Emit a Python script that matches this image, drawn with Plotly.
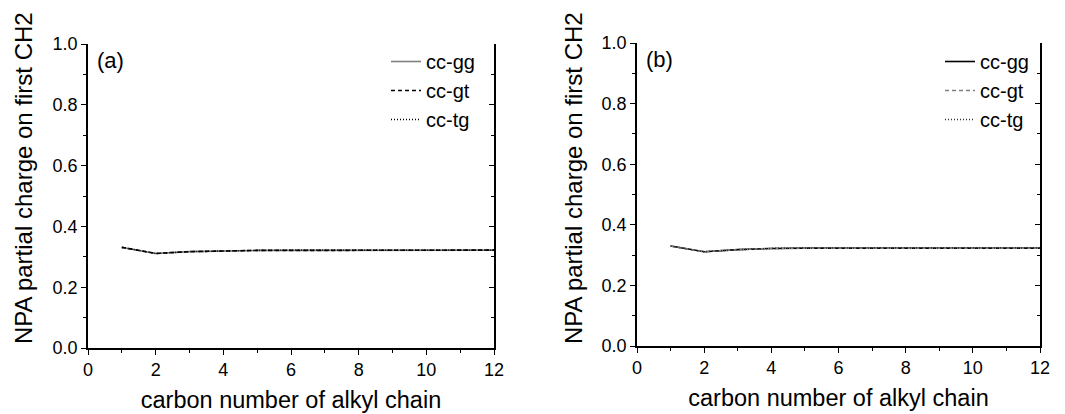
import plotly.graph_objects as go

carbon = [1, 2, 3, 4, 5, 6, 7, 8, 9, 10, 11, 12]

a_gg = [0.331, 0.311, 0.317, 0.320, 0.321, 0.321, 0.321, 0.321, 0.322, 0.322, 0.322, 0.322]
a_gt = [0.331, 0.311, 0.317, 0.320, 0.321, 0.321, 0.321, 0.321, 0.322, 0.322, 0.322, 0.322]
a_tg = [0.331, 0.311, 0.317, 0.320, 0.321, 0.322, 0.322, 0.322, 0.322, 0.322, 0.322, 0.322]

b_gg = [0.330, 0.311, 0.318, 0.322, 0.323, 0.323, 0.323, 0.323, 0.323, 0.323, 0.323, 0.323]
b_gt = [0.330, 0.311, 0.318, 0.322, 0.323, 0.323, 0.323, 0.323, 0.323, 0.323, 0.323, 0.323]
b_tg = [0.330, 0.311, 0.318, 0.322, 0.323, 0.324, 0.324, 0.324, 0.324, 0.324, 0.324, 0.324]

series_names = ["cc-gg", "cc-gt", "cc-tg"]
panel_labels = ["(a)", "(b)"]
x_title = "carbon number of alkyl chain"
y_title = "NPA partial charge on first CH2"

FONT = "Arial, Liberation Sans, sans-serif"
W, H = 1065, 414

fig = go.Figure()

styles_a = [("#808080", "solid"), ("#000000", "4px,3px"), ("#000000", "1px,2px")]
styles_b = [("#000000", "solid"), ("#808080", "4px,3px"), ("#333333", "1px,2px")]

for name, ys, (col, dash) in zip(series_names, [a_gg, a_gt, a_tg], styles_a):
    fig.add_trace(go.Scatter(x=carbon, y=ys, mode="lines", name=name,
                             line=dict(color=col, width=1.6, dash=dash),
                             xaxis="x", yaxis="y", legend="legend"))
for name, ys, (col, dash) in zip(series_names, [b_gg, b_gt, b_tg], styles_b):
    fig.add_trace(go.Scatter(x=carbon, y=ys, mode="lines", name=name,
                             line=dict(color=col, width=1.6, dash=dash),
                             xaxis="x2", yaxis="y2", legend="legend2"))

# invisible companions so the right-hand frame axes get drawn
fig.add_trace(go.Scatter(x=carbon, y=a_gg, mode="lines", line=dict(width=0, color="rgba(0,0,0,0)"),
                         showlegend=False, hoverinfo="skip", xaxis="x", yaxis="y3"))
fig.add_trace(go.Scatter(x=carbon, y=b_gg, mode="lines", line=dict(width=0, color="rgba(0,0,0,0)"),
                         showlegend=False, hoverinfo="skip", xaxis="x2", yaxis="y4"))

def xax(domain, anchor):
    return dict(domain=domain, anchor=anchor, range=[0, 12], dtick=2, tick0=0,
                showline=True, linecolor="black", linewidth=1.5,
                ticks="outside", ticklen=5, tickwidth=1.2, tickcolor="black",
                minor=dict(dtick=1, ticks="outside", ticklen=3, tickwidth=1.2, tickcolor="black"),
                showgrid=False, zeroline=False, automargin=False,
                tickfont=dict(family=FONT, size=18, color="black"),
                title=dict(text=x_title, font=dict(family=FONT, size=23.5, color="black"), standoff=12))

def yax(domain, anchor):
    return dict(domain=domain, anchor=anchor, range=[0, 1], dtick=0.2, tick0=0,
                tickformat=".1f",
                showline=True, linecolor="black", linewidth=1.5,
                ticks="outside", ticklen=5, tickwidth=1.2, tickcolor="black",
                minor=dict(dtick=0.1, ticks="outside", ticklen=3, tickwidth=1.2, tickcolor="black"),
                showgrid=False, zeroline=False, automargin=False,
                tickfont=dict(family=FONT, size=18, color="black"))

def yright(domain, anchor, over):
    return dict(domain=domain, anchor=anchor, overlaying=over, side="right",
                range=[0, 1], dtick=0.2, tick0=0, showticklabels=False,
                showline=True, linecolor="black", linewidth=1.5,
                ticks="inside", ticklen=5, tickwidth=1.2, tickcolor="black",
                minor=dict(dtick=0.1, ticks="inside", ticklen=3, tickwidth=1.2, tickcolor="black"),
                showgrid=False, zeroline=False, automargin=False)

xa = [88 / W, 494 / W]
ya = [(H - 348) / H, (H - 44) / H]
xb = [637 / W, 1040 / W]
yb = [(H - 346) / H, (H - 43) / H]

fig.update_layout(
    width=W, height=H,
    margin=dict(l=0, r=0, t=0, b=0),
    paper_bgcolor="white", plot_bgcolor="white",
    font=dict(family=FONT, color="black"),
    xaxis=xax(xa, "y"),
    yaxis=yax(ya, "x"),
    xaxis2=xax(xb, "y2"),
    yaxis2=yax(yb, "x2"),
    yaxis3=yright(ya, "x", "y"),
    yaxis4=yright(yb, "x2", "y2"),
    legend=dict(x=386 / W, y=(H - 42) / H, xanchor="left", yanchor="top",
                bgcolor="rgba(0,0,0,0)", borderwidth=0, tracegroupgap=0,
                font=dict(family=FONT, size=20, color="black")),
    legend2=dict(x=940 / W, y=(H - 42) / H, xanchor="left", yanchor="top",
                 bgcolor="rgba(0,0,0,0)", borderwidth=0, tracegroupgap=0,
                 font=dict(family=FONT, size=20, color="black")),
    showlegend=True,
)

# y-axis titles (placed as in the reference, slightly above the axis centre)
for xc in (23, 573):
    fig.add_annotation(text=y_title, xref="paper", yref="paper", x=xc / W, y=(H - 178) / H,
                       xanchor="center", yanchor="middle", textangle=-90, showarrow=False,
                       font=dict(family=FONT, size=24, color="black"))

fig.add_annotation(text=panel_labels[0], xref="x", yref="y", x=0.22, y=0.945,
                   xanchor="left", yanchor="middle", showarrow=False,
                   font=dict(family=FONT, size=22, color="black"))
fig.add_annotation(text=panel_labels[1], xref="x2", yref="y2", x=0.22, y=0.945,
                   xanchor="left", yanchor="middle", showarrow=False,
                   font=dict(family=FONT, size=22, color="black"))

fig.write_html("out.html", config={"displayModeBar": False},
               post_script="document.body.style.margin='0';document.body.style.overflow='hidden';")
